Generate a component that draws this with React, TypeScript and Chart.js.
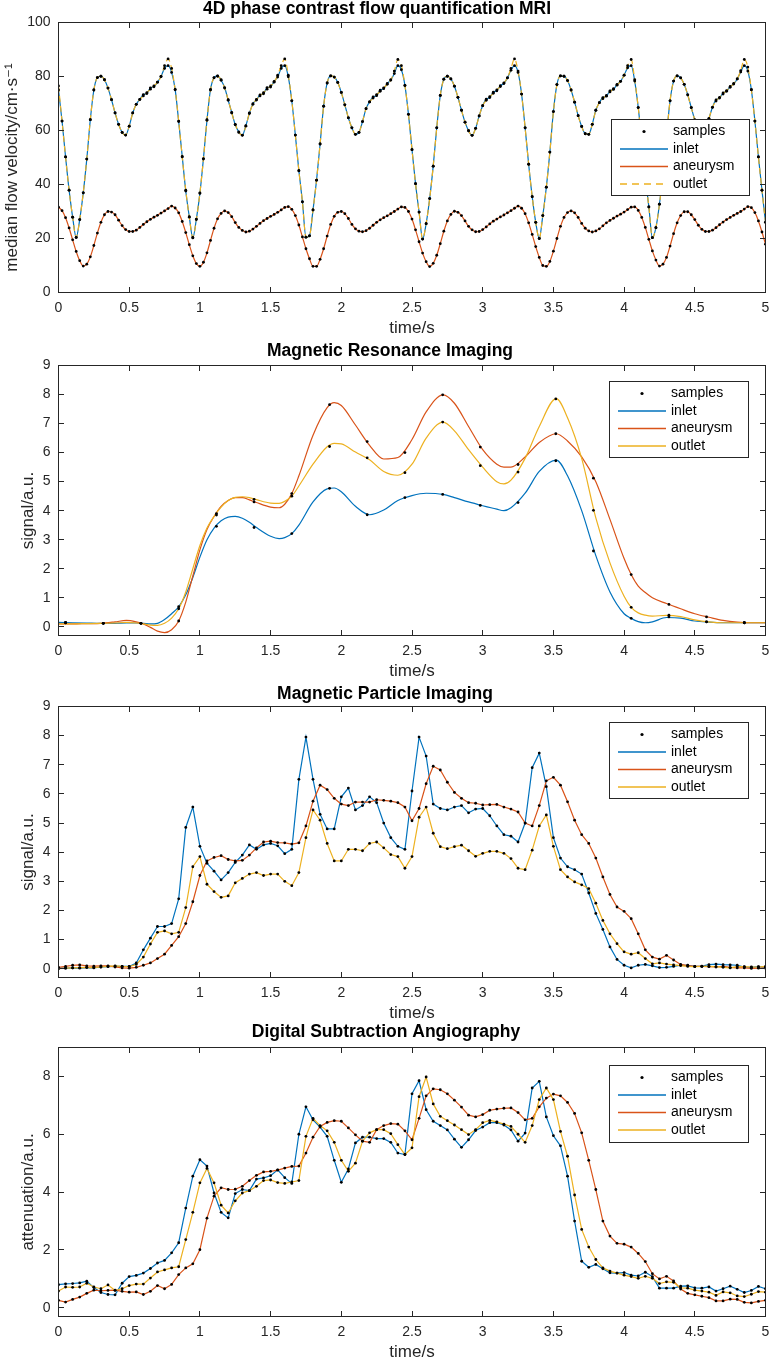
import React, { useEffect, useRef } from "react";
import { Chart, registerables } from "chart.js";

Chart.register(...registerables);

const FONT = '"Liberation Sans", Arial, Helvetica, "DejaVu Sans", sans-serif';
const INK = "#262626";
const C_INLET = "#0072BD";
const C_ANEURYSM = "#D95319";
const C_OUTLET = "#EDB120";
const LEGEND_LABELS = ["samples", "inlet", "aneurysm", "outlet"];

const X_TICKS = [0, 0.5, 1, 1.5, 2, 2.5, 3, 3.5, 4, 4.5, 5];
const FLOW_Y_TICKS = [0, 20, 40, 60, 80, 100];
const SIGNAL_Y_TICKS = [0, 1, 2, 3, 4, 5, 6, 7, 8, 9];
const DSA_Y_TICKS = [0, 2, 4, 6, 8];

// ---------- 4D flow MRI (sampled every 0.025 s) ----------
const FLOW_DT = 0.025;
const FLOW_COUNT = 201;
const FLOW_INLET = [
  75, 63.5, 50.2, 37.9, 27.9, 20.4, 27, 36.9, 49.4, 64, 75, 79.6, 80.1, 78.8, 75.7, 71.4, 66.5, 62.3, 59.3, 58.3,
  61.6, 66.5, 69.7, 71.5, 73.3, 73.7, 75.8, 76.2, 77.9, 80, 83, 84,
  81.5,
  75.2, 63.3, 50.4, 37.6, 28.1, 20.2, 27.2, 36.7, 49.6, 63.8, 75.2, 79.5, 80.2, 78.6, 75.9, 71.2, 66.7, 62.1, 59.5, 58.2,
  61.8, 66.3, 69.9, 71.3, 73.2, 73.6, 75.9, 76.1, 78.2, 79.8, 83,
  84, 79.9, 71, 58.3, 45.1, 33.6, 20.5, 21, 30.6, 41.6, 55, 69, 77.6, 80.2, 79.8, 77.8, 74.1, 69.5, 64.7, 61,
  58.6, 59.3, 63.3, 68.1, 70.6, 72.4, 72.9, 74.9, 75.5, 77.4, 78.7, 81.1, 84,
  82.5, 76.7, 66, 52.9, 40.3, 29.8, 19.8, 25.5, 34.8, 46.8, 61, 73, 79, 80.1, 79.1, 76.4, 72.3, 67.5, 63.1, 59.9,
  58.2, 60.8, 65.4, 69.2, 71.6, 72.2, 74.2, 74.7, 76.6, 77.4, 79.5, 82.3,
  84, 81.5, 73.5, 61, 47.5, 35.5, 26, 20, 28.5, 39, 52, 67, 77, 80.2, 80.1, 78.5, 75, 70.5, 65.5, 61.5,
  58.8, 58.6, 62.3, 67.5, 70.3, 72.2, 72.7, 74.7, 75.2, 77.1, 78.2, 80.5, 83.2,
  84, 78.3, 68.5, 55.6, 42.7, 31.7, 20.3, 24, 32.7, 44.2, 58, 71, 78.3, 80.2, 79.5, 77.1, 73.2, 68.5, 63.9, 60.4,
  58.4, 60.1, 64.4, 68.6, 71.3, 72, 73.9, 74.5, 76.3, 77.2, 79.1, 81.7, 84,
  82, 75.1, 63.5, 50.2, 37.9, 26,
];
const FLOW_OUTLET = [
  76.5, 63.5, 50.2, 37.9, 27.9, 20.4, 27, 36.9, 49.4, 64, 75, 79.6, 80.1, 78.8, 75.7, 71.4, 66.5, 62.3, 59.3, 58.3,
  61.6, 66.5, 69.7, 71.5, 72.8, 74, 75.3, 76.5, 77.9, 80, 84, 86.5,
  83,
  75.1, 63.5, 50.2, 37.9, 27.9, 20.4, 27, 36.9, 49.4, 64, 75, 79.6, 80.1, 78.8, 75.7, 71.4, 66.5, 62.3, 59.3, 58.3,
  61.6, 66.5, 69.7, 71.5, 72.8, 74, 75.3, 76.5, 77.9, 80.5, 84,
  86.5, 80.5, 71, 58.3, 45.1, 33.6, 20.5, 21, 30.6, 41.6, 55, 69, 77.6, 80.2, 79.8, 77.8, 74.1, 69.5, 64.7, 61,
  58.6, 59.3, 63.3, 68.1, 70.6, 72, 73.3, 74.5, 75.8, 77.1, 78.7, 82, 86.3,
  84, 76.7, 66, 52.9, 40.3, 29.8, 19.8, 25.5, 34.8, 46.8, 61, 73, 79, 80.1, 79.1, 76.4, 72.3, 67.5, 63.1, 59.9,
  58.2, 60.8, 65.4, 69.2, 71.2, 72.5, 73.8, 75, 76.3, 77.6, 79.5, 83,
  86.5, 82, 73.5, 61, 47.5, 35.5, 26, 20, 28.5, 39, 52, 67, 77, 80.2, 80.1, 78.5, 75, 70.5, 65.5, 61.5,
  58.8, 58.6, 62.3, 67.5, 70.3, 71.8, 73, 74.3, 75.5, 76.8, 78.2, 80.5, 84,
  86.3, 78.8, 68.5, 55.6, 42.7, 31.7, 20.3, 24, 32.7, 44.2, 58, 71, 78.3, 80.2, 79.5, 77.1, 73.2, 68.5, 63.9, 60.4,
  58.4, 60.1, 64.4, 68.6, 70.9, 72.3, 73.5, 74.8, 76, 77.4, 79.1, 82.2, 86.3,
  83.5, 75.1, 63.5, 50.2, 37.9, 26,
];
const FLOW_ANEURYSM = [
  31.6, 30.3, 27.7, 23.9, 19.5, 15.2, 11.8, 9.8, 10.5, 13.2, 17.4, 22, 26, 28.8, 30, 29.8, 28.8, 26.8, 24.8, 23.3,
  22.6, 22.6, 23.1, 24.1, 25.2, 26.2, 27.1, 27.9, 28.6, 29.4, 30.2, 31.1,
  32,
  31.3, 29.5, 26.3, 22.2, 17.7, 13.6, 10.7, 9.7, 11.2, 14.7, 19.3, 23.8, 27.3, 29.3, 30.2, 29.6, 28.1, 25.9, 24.1, 23,
  22.4, 22.7, 23.5, 24.5, 25.6, 26.6, 27.4, 28.2, 28.9, 29.7, 30.6, 31.5,
  31.8, 30.8, 28.5, 25, 20.6, 16.2, 12.5, 9.7, 9.7, 12.3, 16.2, 20.9, 25.2, 28.2, 29.7, 30, 29.2, 27.4, 25.2, 23.6,
  22.7, 22.5, 22.9, 23.8, 24.9, 26, 26.9, 27.7, 28.4, 29.2, 30, 30.9, 31.7,
  31.5, 30, 27.2, 23.2, 18.8, 14.6, 11.4, 9.6, 10.8, 13.8, 18.1, 22.7, 26.5, 28.9, 30.1, 29.7, 28.5, 26.5, 24.5, 23.2,
  22.5, 22.6, 23.3, 24.3, 25.4, 26.4, 27.2, 28, 28.7, 29.5, 30.3, 31.2, 32,
  31.2, 29.2, 25.8, 21.5, 17, 13, 10, 9.7, 11.5, 15.3, 20, 24.5, 27.8, 29.6, 30.2, 29.5, 27.8, 25.6, 23.8, 22.8,
  22.4, 22.8, 23.6, 24.7, 25.8, 26.7, 27.5, 28.3, 29, 29.8, 30.7, 31.6,
  31.7, 30.4, 27.8, 24.1, 19.7, 15.4, 12, 9.8, 10.5, 13, 17.2, 21.8, 25.8, 28.5, 29.9, 29.9, 28.8, 27, 24.9, 23.4,
  22.6, 22.6, 23.1, 24, 25.1, 26.1, 27, 27.8, 28.6, 29.3, 30, 30.9, 31.8,
  31.4, 29.6, 26.5, 22.4, 17.9,
];

// ---------- MRI (samples every ~0.267 s and the interpolated curves) ----------
const MRI_SAMPLE_T = [0.05, 0.317, 0.583, 0.85, 1.117, 1.383, 1.65, 1.917, 2.183, 2.45, 2.717, 2.983, 3.25, 3.517, 3.783, 4.05, 4.317, 4.583, 4.85];
const MRI_INLET_SAMPLES = [0.15, 0.12, 0.12, 0.69, 3.46, 3.42, 3.21, 4.77, 3.86, 4.45, 4.56, 4.18, 4.28, 5.72, 2.61, 0.29, 0.34, 0.17, 0.14];
const MRI_ANEURYSM_SAMPLES = [0.14, 0.12, 0.12, 0.2, 3.9, 4.3, 4.59, 7.65, 6.38, 6.0, 7.99, 6.19, 5.59, 6.65, 5.12, 1.8, 0.77, 0.34, 0.14];
const MRI_OUTLET_SAMPLES = [0.14, 0.12, 0.12, 0.62, 3.85, 4.39, 4.5, 6.21, 5.82, 5.31, 7.05, 5.55, 5.33, 7.85, 4.01, 0.67, 0.4, 0.17, 0.14];
const MRI_CURVE_T = [0, 0.1, 0.2, 0.3, 0.4, 0.48, 0.55, 0.6, 0.65, 0.7, 0.75, 0.8, 0.85, 0.9, 0.95, 1.0, 1.05, 1.1, 1.15, 1.2, 1.25, 1.3, 1.35, 1.4, 1.5, 1.56, 1.6, 1.65, 1.7, 1.8, 1.9, 1.95, 2.0, 2.1, 2.2, 2.3, 2.4, 2.5, 2.6, 2.72, 2.8, 2.9, 3.0, 3.1, 3.15, 3.2, 3.3, 3.4, 3.52, 3.6, 3.7, 3.8, 3.9, 4.0, 4.05, 4.1, 4.15, 4.2, 4.3, 4.4, 4.5, 4.6, 4.7, 4.8, 4.9, 5.0];
const MRI_INLET_CURVE = [0.15, 0.14, 0.13, 0.12, 0.12, 0.13, 0.13, 0.12, 0.1, 0.12, 0.25, 0.45, 0.69, 1.1, 1.7, 2.4, 3.0, 3.4, 3.65, 3.78, 3.8, 3.74, 3.6, 3.42, 3.12, 3.04, 3.07, 3.21, 3.5, 4.3, 4.75, 4.78, 4.65, 4.15, 3.86, 4.02, 4.35, 4.52, 4.6, 4.56, 4.45, 4.3, 4.17, 4.05, 4.0, 4.1, 4.6, 5.35, 5.74, 5.2, 4.0, 2.45, 1.2, 0.45, 0.29, 0.18, 0.14, 0.17, 0.32, 0.3, 0.2, 0.16, 0.14, 0.14, 0.14, 0.14];
const MRI_ANEURYSM_CURVE = [0.1, 0.1, 0.11, 0.12, 0.17, 0.22, 0.17, 0.1, -0.02, -0.15, -0.2, -0.1, 0.2, 0.85, 1.75, 2.65, 3.35, 3.8, 4.15, 4.35, 4.45, 4.45, 4.37, 4.28, 4.12, 4.1, 4.22, 4.59, 5.2, 6.6, 7.55, 7.72, 7.62, 6.95, 6.25, 5.78, 5.83, 6.45, 7.4, 7.99, 7.7, 6.9, 6.1, 5.6, 5.5, 5.5, 5.85, 6.35, 6.65, 6.4, 5.85, 5.0, 3.7, 2.35, 1.8, 1.4, 1.18, 1.0, 0.8, 0.62, 0.45, 0.33, 0.22, 0.16, 0.14, 0.14];
const MRI_OUTLET_CURVE = [0.1, 0.1, 0.11, 0.12, 0.13, 0.15, 0.13, 0.1, 0.06, 0.05, 0.12, 0.3, 0.62, 1.2, 2.0, 2.8, 3.4, 3.8, 4.12, 4.35, 4.46, 4.48, 4.45, 4.38, 4.26, 4.25, 4.32, 4.5, 4.85, 5.6, 6.2, 6.32, 6.3, 6.02, 5.75, 5.35, 5.22, 5.6, 6.5, 7.05, 6.75, 6.1, 5.5, 5.0, 4.92, 5.05, 5.8, 6.9, 7.86, 7.2, 5.8, 3.75, 2.2, 1.05, 0.67, 0.48, 0.4, 0.37, 0.39, 0.35, 0.24, 0.17, 0.14, 0.14, 0.14, 0.14];

// ---------- MPI (0.05 s grid) ----------
const MPI_DT = 0.05;
const MPI_COUNT = 101;
const MPI_INLET = [
  0.02, 0.02, 0.03, 0.02, 0.04, 0.03, 0.06, 0.07, 0.08, 0.08,
  0.08, 0.2, 0.65, 1.05, 1.45, 1.45, 1.55, 2.4, 4.85, 5.55,
  4.2, 3.62, 3.35, 3.05, 3.3, 3.65, 3.9, 4.25, 4.1, 4.25,
  4.3, 4.22, 3.95, 4.1, 6.5, 7.95, 6.5, 5.3, 4.8, 4.8,
  5.9, 6.2, 5.45, 5.6, 5.9, 5.7, 5.0, 4.5, 4.2, 4.1,
  6.1, 7.95, 7.3, 5.65, 5.5, 5.45, 5.55, 5.6, 5.35, 5.48,
  5.5, 5.25, 4.9, 4.6, 4.55, 4.35, 5.0, 6.9, 7.4, 6.25,
  4.5, 3.8, 3.5, 3.4, 3.25, 2.6, 1.9, 1.35, 0.75, 0.32,
  0.12, 0.03, 0.12, 0.15, 0.1, 0.04, 0.05, 0.08, 0.12, 0.12,
  0.08, 0.09, 0.14, 0.16, 0.14, 0.13, 0.12, 0.06, 0.05, 0.07,
  0.05,
];
const MPI_ANEURYSM = [
  0.05, 0.08, 0.12, 0.13, 0.1, 0.09, 0.1, 0.1, 0.06, 0.03,
  0.02, 0.05, 0.12, 0.2, 0.35, 0.5, 0.8, 1.1, 1.55, 2.3,
  3.2, 3.7, 3.82, 3.88, 3.75, 3.7, 3.72, 3.9, 4.15, 4.35,
  4.38, 4.33, 4.32, 4.28, 4.32, 4.9, 5.75, 6.3, 6.15, 5.85,
  5.65, 5.6, 5.72, 5.72, 5.72, 5.8, 5.78, 5.75, 5.7, 5.55,
  5.08, 5.5, 6.35, 6.95, 6.82, 6.4, 6.05, 5.85, 5.7, 5.68,
  5.62, 5.63, 5.64, 5.55, 5.48, 5.38, 5.0, 4.9, 5.6, 6.45,
  6.57, 6.3, 5.73, 5.1, 4.6, 4.3, 3.8, 3.15, 2.55, 2.12,
  1.97, 1.72, 1.2, 0.65, 0.4, 0.33, 0.46, 0.3, 0.15, 0.11,
  0.08, 0.08, 0.07, 0.06, 0.08, 0.05, 0.03, 0.03, 0.01, 0.02,
  0.02,
];
const MPI_OUTLET = [
  0.0, 0.02, 0.03, 0.04, 0.05, 0.04, 0.06, 0.08, 0.1, 0.08,
  0.07, 0.15, 0.4, 0.85, 1.25, 1.3, 1.2, 1.25, 2.1, 3.5,
  3.85, 2.9, 2.65, 2.45, 2.5, 2.95, 3.1, 3.25, 3.3, 3.2,
  3.25, 3.25, 3.0, 2.85, 3.3, 4.5, 5.45, 5.1, 4.3, 3.7,
  3.7, 4.1, 4.1, 4.05, 4.3, 4.35, 4.15, 3.92, 3.85, 3.45,
  3.85, 5.2, 5.55, 4.65, 4.19, 4.12, 4.19, 4.24, 4.05, 3.86,
  3.96, 4.03, 4.03, 3.96, 3.78, 3.45, 3.4, 4.07, 4.9, 5.28,
  4.2, 3.4, 3.15, 2.98, 2.88, 2.75, 2.25, 1.66, 1.2, 0.86,
  0.58, 0.5, 0.55, 0.35, 0.17, 0.2, 0.16, 0.13, 0.11, 0.08,
  0.07, 0.08, 0.08, 0.07, 0.05, 0.03, 0.07, 0.07, 0.06, 0.06,
  0.08,
];

// ---------- DSA (0.05 s grid) ----------
const DSA_DT = 0.05;
const DSA_COUNT = 101;
const DSA_INLET = [
  0.8, 0.83, 0.84, 0.86, 0.92, 0.7, 0.53, 0.46, 0.45, 0.85,
  1.08, 1.12, 1.2, 1.36, 1.55, 1.64, 1.9, 2.25, 3.45, 4.55,
  5.12, 4.9, 3.97, 3.3, 3.11, 3.95, 4.09, 4.05, 4.45, 4.49,
  4.57, 4.77, 4.5, 4.3, 6.0, 6.95, 6.5, 6.25, 5.93, 5.1,
  4.34, 4.8, 5.7, 5.9, 5.9, 5.85, 5.85, 5.72, 5.35, 5.3,
  7.4, 7.85, 6.85, 6.45, 6.3, 6.15, 5.83, 5.55, 5.81, 6.13,
  6.25, 6.4, 6.4, 6.32, 6.15, 5.76, 6.04, 7.6, 7.83, 6.6,
  5.95, 5.6, 4.55, 3.0, 1.61, 1.4, 1.5, 1.35, 1.21, 1.2,
  1.22, 1.13, 1.1, 1.23, 1.08, 0.68, 0.68, 0.68, 0.75, 0.76,
  0.69, 0.68, 0.72, 0.58, 0.66, 0.75, 0.64, 0.53, 0.6, 0.74,
  0.66,
];
const DSA_ANEURYSM = [
  0.26, 0.2, 0.29, 0.37, 0.5, 0.61, 0.59, 0.6, 0.61, 0.57,
  0.54, 0.55, 0.46, 0.57, 0.77, 0.66, 0.81, 1.15, 1.38, 1.52,
  2.01, 3.1, 3.86, 4.15, 4.09, 4.1, 4.2, 4.4, 4.58, 4.7,
  4.72, 4.76, 4.83, 4.89, 4.9, 5.35, 5.9, 6.27, 6.41, 6.47,
  6.45, 6.22, 5.98, 5.76, 5.72, 6.16, 6.3, 6.37, 6.35, 6.12,
  5.81, 6.55, 7.33, 7.57, 7.54, 7.4, 7.18, 6.94, 6.66, 6.6,
  6.68, 6.83, 6.87, 6.9, 6.91, 6.75, 6.5, 6.55, 6.95, 7.25,
  7.39, 7.33, 7.1, 6.72, 6.05, 5.1, 4.09, 3.0, 2.48, 2.23,
  2.2, 2.1, 1.88, 1.6, 1.18, 1.0, 1.09, 0.93, 0.65, 0.5,
  0.45, 0.4, 0.35, 0.24, 0.24, 0.3, 0.29, 0.19, 0.17, 0.22,
  0.26,
];
const DSA_OUTLET = [
  0.58, 0.72, 0.71, 0.72, 0.85, 0.72, 0.66, 0.79, 0.6, 0.66,
  0.77, 0.82, 0.82, 1.03, 1.24, 1.31, 1.38, 1.42, 2.36, 3.3,
  4.32, 4.82, 4.32, 3.55, 3.28, 3.7, 3.97, 4.05, 4.2, 4.4,
  4.42, 4.33, 4.3, 4.35, 4.4, 5.93, 6.55, 6.3, 6.12, 5.72,
  5.1, 4.72, 5.0, 5.76, 6.05, 6.16, 6.16, 6.02, 5.64, 5.3,
  5.53, 7.3, 7.98, 7.05, 6.62, 6.47, 6.32, 6.16, 5.99, 6.16,
  6.4, 6.48, 6.43, 6.35, 6.27, 6.0, 5.72, 6.3, 7.2, 7.6,
  7.2, 6.1, 5.24, 3.9, 2.71, 2.1, 1.67, 1.38, 1.27, 1.2,
  1.13, 1.08, 1.02, 1.09, 1.02, 0.84, 0.9, 0.88, 0.69, 0.68,
  0.61, 0.58, 0.54, 0.43, 0.55, 0.52, 0.41, 0.39, 0.47, 0.56,
  0.54,
];

// sampling grids (times of the frames)
const grid = (n: number, dt: number) => Array.from({ length: n }, (_, i) => Math.round(i * dt * 1000) / 1000);
const FLOW_T = grid(FLOW_COUNT, FLOW_DT);
const MPI_T = grid(MPI_COUNT, MPI_DT);
const DSA_T = grid(DSA_COUNT, DSA_DT);

const pts = (xs: number[], ys: number[]) => ys.map((y, i) => ({ x: xs[i], y }));

function lineDs(label: string, xs: number[], ys: number[], color: string, order: number, extra: any = {}) {
  return {
    label,
    data: pts(xs, ys),
    borderColor: color,
    backgroundColor: color,
    borderWidth: 1.2,
    pointRadius: 0,
    fill: false,
    tension: 0,
    order,
    ...extra,
  };
}
function sampleDs(xs: number[], ys: number[]) {
  return {
    label: "samples",
    data: pts(xs, ys),
    showLine: false,
    pointRadius: 1.4,
    pointBackgroundColor: "#000",
    pointBorderColor: "#000",
    pointBorderWidth: 0,
    order: 0,
  };
}

const PLOT_LEFT = 58.5;
const PLOT_RIGHT = 765.5;
const TICK_LEN = 5.5;

const smooth = { cubicInterpolationMode: "monotone" };

const PANELS: any[] = [
  {
    key: "flow", top: 0, height: 340, plotTop: 22.5, plotBottom: 292.5,
    title: "4D phase contrast flow quantification MRI", titleX: 377, titleY: 9.5,
    yLabel: "median flow velocity/cm·s⁻¹", yLabelX: 12,
    yMin: 0, yMax: 100, yTicks: FLOW_Y_TICKS,
    legend: { x: 611, y: 119, w: 138, h: 76 }, outletDash: true,
    datasets: [
      sampleDs(FLOW_T, FLOW_OUTLET), sampleDs(FLOW_T, FLOW_INLET), sampleDs(FLOW_T, FLOW_ANEURYSM),
      lineDs("outlet", FLOW_T, FLOW_OUTLET, C_OUTLET, 1, { ...smooth, borderDash: [6, 4] }),
      lineDs("aneurysm", FLOW_T, FLOW_ANEURYSM, C_ANEURYSM, 2, smooth),
      lineDs("inlet", FLOW_T, FLOW_INLET, C_INLET, 3, smooth),
    ],
  },
  {
    key: "mri", top: 340, height: 345, plotTop: 25.5, plotBottom: 295.5,
    title: "Magnetic Resonance Imaging", titleX: 390, titleY: 11.5,
    yLabel: "signal/a.u.", yLabelX: 28,
    yMin: -0.3, yMax: 9, yTicks: SIGNAL_Y_TICKS,
    legend: { x: 609, y: 41, w: 139, h: 76 }, outletDash: false,
    datasets: [
      sampleDs(MRI_SAMPLE_T, MRI_OUTLET_SAMPLES), sampleDs(MRI_SAMPLE_T, MRI_INLET_SAMPLES), sampleDs(MRI_SAMPLE_T, MRI_ANEURYSM_SAMPLES),
      lineDs("outlet", MRI_CURVE_T, MRI_OUTLET_CURVE, C_OUTLET, 1, smooth),
      lineDs("aneurysm", MRI_CURVE_T, MRI_ANEURYSM_CURVE, C_ANEURYSM, 2, smooth),
      lineDs("inlet", MRI_CURVE_T, MRI_INLET_CURVE, C_INLET, 3, smooth),
    ],
  },
  {
    key: "mpi", top: 685, height: 335, plotTop: 21.5, plotBottom: 292.5,
    title: "Magnetic Particle Imaging", titleX: 385, titleY: 9,
    yLabel: "signal/a.u.", yLabelX: 28,
    yMin: -0.3, yMax: 9, yTicks: SIGNAL_Y_TICKS,
    legend: { x: 609, y: 37, w: 139, h: 76 }, outletDash: false,
    datasets: [
      sampleDs(MPI_T, MPI_OUTLET), sampleDs(MPI_T, MPI_INLET), sampleDs(MPI_T, MPI_ANEURYSM),
      lineDs("outlet", MPI_T, MPI_OUTLET, C_OUTLET, 1),
      lineDs("aneurysm", MPI_T, MPI_ANEURYSM, C_ANEURYSM, 2),
      lineDs("inlet", MPI_T, MPI_INLET, C_INLET, 3),
    ],
  },
  {
    key: "dsa", top: 1020, height: 342, plotTop: 27.5, plotBottom: 296.5,
    title: "Digital Subtraction Angiography", titleX: 386, titleY: 12.5,
    yLabel: "attenuation/a.u.", yLabelX: 28,
    yMin: -0.3, yMax: 9, yTicks: DSA_Y_TICKS,
    legend: { x: 609, y: 45, w: 139, h: 77 }, outletDash: false,
    datasets: [
      sampleDs(DSA_T, DSA_OUTLET), sampleDs(DSA_T, DSA_INLET), sampleDs(DSA_T, DSA_ANEURYSM),
      lineDs("outlet", DSA_T, DSA_OUTLET, C_OUTLET, 1),
      lineDs("aneurysm", DSA_T, DSA_ANEURYSM, C_ANEURYSM, 2),
      lineDs("inlet", DSA_T, DSA_INLET, C_INLET, 3),
    ],
  },
];

function makeDecor(cfg: any) {
  return {
    id: "decor_" + cfg.key,
    afterDatasetsDraw(chart: any) {
      const { ctx, chartArea: a, scales } = chart;
      const xs = scales.x;
      const ys = scales.y;
      ctx.save();
      ctx.strokeStyle = INK;
      ctx.lineWidth = 1;
      ctx.beginPath();
      for (const v of X_TICKS) {
        const px = Math.round(xs.getPixelForValue(v) - 0.5) + 0.5;
        ctx.moveTo(px, a.bottom);
        ctx.lineTo(px, a.bottom - TICK_LEN);
        ctx.moveTo(px, a.top);
        ctx.lineTo(px, a.top + TICK_LEN);
      }
      for (const v of cfg.yTicks) {
        const py = Math.round(ys.getPixelForValue(v) - 0.5) + 0.5;
        ctx.moveTo(a.left, py);
        ctx.lineTo(a.left + TICK_LEN, py);
        ctx.moveTo(a.right, py);
        ctx.lineTo(a.right - TICK_LEN, py);
      }
      ctx.stroke();
      ctx.strokeRect(a.left, a.top, a.right - a.left, a.bottom - a.top);
      ctx.restore();
    },
    afterDraw(chart: any) {
      const { ctx, chartArea: a } = chart;
      ctx.save();
      // title
      ctx.fillStyle = "#000";
      ctx.font = `bold 17.5px ${FONT}`;
      ctx.textAlign = "center";
      ctx.textBaseline = "middle";
      ctx.fillText(cfg.title, cfg.titleX, cfg.titleY);
      // x label
      ctx.fillStyle = INK;
      ctx.font = `17px ${FONT}`;
      ctx.fillText("time/s", (a.left + a.right) / 2, a.bottom + 35.5);
      // y label
      ctx.save();
      ctx.translate(cfg.yLabelX, (a.top + a.bottom) / 2 + 10);
      ctx.rotate(-Math.PI / 2);
      ctx.fillText(cfg.yLabel, 0, 0);
      ctx.restore();
      // legend
      const L = cfg.legend;
      ctx.fillStyle = "#fff";
      ctx.fillRect(L.x, L.y, L.w, L.h);
      ctx.strokeStyle = INK;
      ctx.lineWidth = 1;
      ctx.strokeRect(L.x + 0.5, L.y + 0.5, L.w, L.h);
      const colors: any = { inlet: C_INLET, aneurysm: C_ANEURYSM, outlet: C_OUTLET };
      LEGEND_LABELS.forEach((label, i) => {
        const cy = L.y + 12.5 + i * 17.5;
        if (label === "samples") {
          ctx.fillStyle = "#000";
          ctx.beginPath();
          ctx.arc(L.x + 33, cy, 1.6, 0, Math.PI * 2);
          ctx.fill();
        } else {
          ctx.strokeStyle = colors[label];
          ctx.lineWidth = 1.3;
          ctx.setLineDash(label === "outlet" && cfg.outletDash ? [7, 5] : []);
          ctx.beginPath();
          ctx.moveTo(L.x + 9, cy);
          ctx.lineTo(L.x + 57, cy);
          ctx.stroke();
          ctx.setLineDash([]);
        }
        ctx.fillStyle = "#000";
        ctx.font = `14px ${FONT}`;
        ctx.textAlign = "left";
        ctx.textBaseline = "middle";
        ctx.fillText(label, L.x + 62, cy);
      });
      ctx.restore();
    },
  };
}

function buildConfig(cfg: any) {
  const tickFont = { family: FONT, size: 14 };
  return {
    type: "line",
    data: { datasets: cfg.datasets },
    options: {
      responsive: false,
      animation: false,
      events: [],
      devicePixelRatio: 1,
      layout: { autoPadding: false, padding: { left: 0, right: 770 - PLOT_RIGHT, top: cfg.plotTop, bottom: 0 } },
      plugins: { legend: { display: false }, title: { display: false }, tooltip: { enabled: false } },
      scales: {
        x: {
          type: "linear",
          min: 0,
          max: 5,
          grid: { display: false, drawTicks: false },
          border: { display: false },
          ticks: { color: INK, font: tickFont, padding: 7.5, maxRotation: 0, autoSkip: false, callback: (v: any) => String(v) },
          afterBuildTicks: (s: any) => { s.ticks = X_TICKS.map((value) => ({ value })); },
          afterFit: (s: any) => {
            s.height = cfg.height - cfg.plotBottom;
            s.paddingLeft = 0; s.paddingRight = 0; s.paddingTop = 0; s.paddingBottom = 0;
          },
        },
        y: {
          type: "linear",
          min: cfg.yMin,
          max: cfg.yMax,
          grid: { display: false, drawTicks: false },
          border: { display: false },
          ticks: { color: INK, font: tickFont, padding: 8, autoSkip: false, callback: (v: any) => String(v) },
          afterBuildTicks: (s: any) => { s.ticks = cfg.yTicks.map((value: number) => ({ value })); },
          afterFit: (s: any) => {
            s.width = PLOT_LEFT;
            s.paddingLeft = 0; s.paddingRight = 0; s.paddingTop = 0; s.paddingBottom = 0;
          },
        },
      },
    },
    plugins: [makeDecor(cfg)],
  };
}

function Panel({ cfg }: { cfg: any }) {
  const ref = useRef<HTMLCanvasElement | null>(null);
  useEffect(() => {
    const chart = new Chart(ref.current as HTMLCanvasElement, buildConfig(cfg) as any);
    return () => chart.destroy();
  }, [cfg]);
  return (
    <canvas
      ref={ref}
      width={770}
      height={cfg.height}
      style={{ position: "absolute", left: 0, top: cfg.top, width: 770, height: cfg.height }}
    />
  );
}

export default function App() {
  return (
    <div style={{ position: "absolute", left: 0, top: 0, width: 770, height: 1362, background: "#fff" }}>
      {PANELS.map((p) => (
        <Panel key={p.key} cfg={p} />
      ))}
    </div>
  );
}
